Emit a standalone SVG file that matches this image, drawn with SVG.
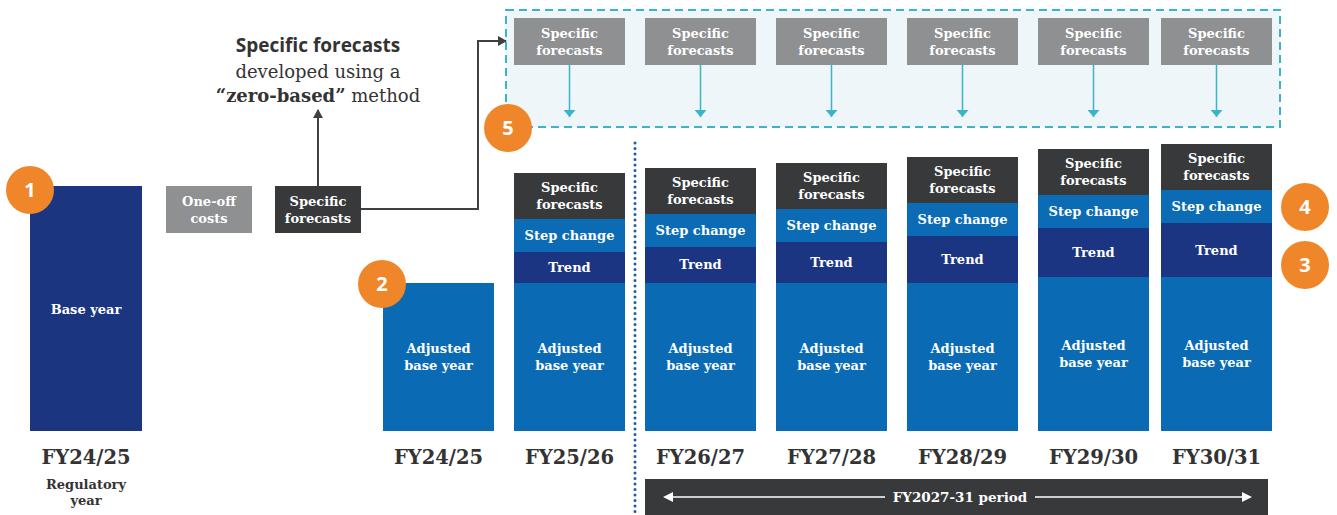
<svg xmlns="http://www.w3.org/2000/svg" width="1337" height="515" viewBox="0 0 1337 515">
<defs>
<style>
.lab{font-family:"DejaVu Serif","Liberation Serif",serif;font-weight:bold;font-size:13px;fill:#fff;text-anchor:middle}
.yr{font-family:"DejaVu Serif","Liberation Serif",serif;font-weight:bold;font-size:19.5px;fill:#333;text-anchor:middle}
.badge circle{fill:#f0862a}
.badge text{font-family:"Open Sans","Liberation Sans",sans-serif;font-weight:bold;font-size:20px;fill:#fff;text-anchor:middle}
.sf{fill:#38393b}
.sc{fill:#0b6cb5}
.tr{fill:#1b3582}
.ab{fill:#0a6ab4}
.gr{fill:#8e9092}
.cy{stroke:#3bb3c9;stroke-width:1.5;fill:none}
</style>
<marker id="ah" markerWidth="10" markerHeight="10" refX="8" refY="5" orient="auto" markerUnits="userSpaceOnUse"><path d="M0,0 L9,5 L0,10 z" fill="#404040"/></marker>
<marker id="ac" markerWidth="8" markerHeight="12" refX="7" refY="6" orient="auto" markerUnits="userSpaceOnUse"><path d="M0,0 L7,6 L0,12 z" fill="#3bb3c9"/></marker>
</defs>
<rect width="1337" height="515" fill="#fff"/>

<g id="zone5">
<rect x="506" y="10" width="774" height="117" fill="#eef6f9" stroke="#3bb3c9" stroke-width="2" stroke-dasharray="8,5"/>
</g>

<g id="title" font-size="19" fill="#333" text-anchor="middle">
<text x="318" y="52" font-family="'Open Sans','Liberation Sans',sans-serif" font-weight="bold">Specific forecasts</text>
<text x="318" y="78" font-family="'DejaVu Serif','Liberation Serif',serif" font-weight="300" font-size="18">developed using a</text>
<text x="318" y="102" font-family="'DejaVu Serif','Liberation Serif',serif" font-size="18"><tspan font-weight="bold">“zero-based”</tspan><tspan font-weight="normal"> method</tspan></text>
</g>

<g id="base">
<rect x="30" y="186" width="112" height="245" fill="#1b3580"/>
<text class="lab" x="86" y="314">Base year</text>
<text class="yr" x="86" y="464">FY24/25</text>
<text class="lab" x="86" y="489" style="fill:#333">Regulatory</text>
<text class="lab" x="86" y="505" style="fill:#333">year</text>
</g>

<g id="oneoff">
<rect class="gr" x="166" y="186" width="86" height="47"/>
<text class="lab" x="209" y="206">One-off</text>
<text class="lab" x="209" y="223">costs</text>
</g>

<g id="sfsrc">
<rect class="sf" x="275" y="186" width="86" height="47"/>
<text class="lab" x="318" y="206">Specific</text>
<text class="lab" x="318" y="223">forecasts</text>
</g>

<g id="top-boxes">
<rect class="gr" x="514" y="18" width="111" height="47"/><text class="lab" x="569.5" y="38">Specific</text><text class="lab" x="569.5" y="55">forecasts</text>
<rect class="gr" x="645" y="18" width="111" height="47"/><text class="lab" x="700.5" y="38">Specific</text><text class="lab" x="700.5" y="55">forecasts</text>
<rect class="gr" x="776" y="18" width="111" height="47"/><text class="lab" x="831.5" y="38">Specific</text><text class="lab" x="831.5" y="55">forecasts</text>
<rect class="gr" x="907" y="18" width="111" height="47"/><text class="lab" x="962.5" y="38">Specific</text><text class="lab" x="962.5" y="55">forecasts</text>
<rect class="gr" x="1038" y="18" width="111" height="47"/><text class="lab" x="1093.5" y="38">Specific</text><text class="lab" x="1093.5" y="55">forecasts</text>
<rect class="gr" x="1161" y="18" width="111" height="47"/><text class="lab" x="1216.5" y="38">Specific</text><text class="lab" x="1216.5" y="55">forecasts</text>
</g>

<g id="connectors" fill="none">
<path d="M318,186 V110" stroke="#404040" stroke-width="2" marker-end="url(#ah)"/>
<path d="M361,209 H478 V41 H506" stroke="#404040" stroke-width="2" marker-end="url(#ah)"/>
<path class="cy" d="M569.5,65 V117" marker-end="url(#ac)"/>
<path class="cy" d="M700.5,65 V117" marker-end="url(#ac)"/>
<path class="cy" d="M831.5,65 V117" marker-end="url(#ac)"/>
<path class="cy" d="M962.5,65 V117" marker-end="url(#ac)"/>
<path class="cy" d="M1093.5,65 V117" marker-end="url(#ac)"/>
<path class="cy" d="M1216.5,65 V117" marker-end="url(#ac)"/>
<path d="M635,143 V515" stroke="#1b5ea8" stroke-width="3" stroke-linecap="round" stroke-dasharray="0,5.5"/>
</g>

<g id="col-2425">
<rect class="ab" x="383" y="283" width="111" height="148"/>
<text class="lab" x="438.5" y="353">Adjusted</text><text class="lab" x="438.5" y="370">base year</text>
<text class="yr" x="438.5" y="464">FY24/25</text>
</g>

<g id="col-2526">
<rect class="sf" x="514" y="173" width="111" height="46"/><text class="lab" x="569.5" y="192">Specific</text><text class="lab" x="569.5" y="209">forecasts</text>
<rect class="sc" x="514" y="219" width="111" height="33"/><text class="lab" x="569.5" y="240">Step change</text>
<rect class="tr" x="514" y="252" width="111" height="31"/><text class="lab" x="569.5" y="272">Trend</text>
<rect class="ab" x="514" y="283" width="111" height="148"/><text class="lab" x="569.5" y="353">Adjusted</text><text class="lab" x="569.5" y="370">base year</text>
<text class="yr" x="569.5" y="464">FY25/26</text>
</g>

<g id="col-2627">
<rect class="sf" x="645" y="168" width="111" height="46"/><text class="lab" x="700.5" y="187">Specific</text><text class="lab" x="700.5" y="204">forecasts</text>
<rect class="sc" x="645" y="214" width="111" height="33"/><text class="lab" x="700.5" y="235">Step change</text>
<rect class="tr" x="645" y="247" width="111" height="36"/><text class="lab" x="700.5" y="269">Trend</text>
<rect class="ab" x="645" y="283" width="111" height="148"/><text class="lab" x="700.5" y="353">Adjusted</text><text class="lab" x="700.5" y="370">base year</text>
<text class="yr" x="700.5" y="464">FY26/27</text>
</g>

<g id="col-2728">
<rect class="sf" x="776" y="163" width="111" height="46"/><text class="lab" x="831.5" y="182">Specific</text><text class="lab" x="831.5" y="199">forecasts</text>
<rect class="sc" x="776" y="209" width="111" height="33"/><text class="lab" x="831.5" y="230">Step change</text>
<rect class="tr" x="776" y="242" width="111" height="41"/><text class="lab" x="831.5" y="267">Trend</text>
<rect class="ab" x="776" y="283" width="111" height="148"/><text class="lab" x="831.5" y="353">Adjusted</text><text class="lab" x="831.5" y="370">base year</text>
<text class="yr" x="831.5" y="464">FY27/28</text>
</g>

<g id="col-2829">
<rect class="sf" x="907" y="157" width="111" height="46"/><text class="lab" x="962.5" y="176">Specific</text><text class="lab" x="962.5" y="193">forecasts</text>
<rect class="sc" x="907" y="203" width="111" height="33"/><text class="lab" x="962.5" y="224">Step change</text>
<rect class="tr" x="907" y="236" width="111" height="47"/><text class="lab" x="962.5" y="264">Trend</text>
<rect class="ab" x="907" y="283" width="111" height="148"/><text class="lab" x="962.5" y="353">Adjusted</text><text class="lab" x="962.5" y="370">base year</text>
<text class="yr" x="962.5" y="464">FY28/29</text>
</g>

<g id="col-2930">
<rect class="sf" x="1038" y="149" width="111" height="46"/><text class="lab" x="1093.5" y="168">Specific</text><text class="lab" x="1093.5" y="185">forecasts</text>
<rect class="sc" x="1038" y="195" width="111" height="33"/><text class="lab" x="1093.5" y="216">Step change</text>
<rect class="tr" x="1038" y="228" width="111" height="49"/><text class="lab" x="1093.5" y="257">Trend</text>
<rect class="ab" x="1038" y="277" width="111" height="154"/><text class="lab" x="1093.5" y="350">Adjusted</text><text class="lab" x="1093.5" y="367">base year</text>
<text class="yr" x="1093.5" y="464">FY29/30</text>
</g>

<g id="col-3031">
<rect class="sf" x="1161" y="144" width="111" height="46"/><text class="lab" x="1216.5" y="163">Specific</text><text class="lab" x="1216.5" y="180">forecasts</text>
<rect class="sc" x="1161" y="190" width="111" height="33"/><text class="lab" x="1216.5" y="211">Step change</text>
<rect class="tr" x="1161" y="223" width="111" height="54"/><text class="lab" x="1216.5" y="255">Trend</text>
<rect class="ab" x="1161" y="277" width="111" height="154"/><text class="lab" x="1216.5" y="350">Adjusted</text><text class="lab" x="1216.5" y="367">base year</text>
<text class="yr" x="1216.5" y="464">FY30/31</text>
</g>

<g id="period">
<rect x="645" y="479" width="623" height="36" fill="#38393b"/>
<path d="M665,497 H885 M1035,497 H1250" stroke="#fff" stroke-width="1.5" fill="none"/>
<path d="M663,497 l10,-5 v10 z M1252,497 l-10,-5 v10 z" fill="#fff"/>
<text class="lab" x="960" y="502" style="font-size:13.5px">FY2027-31 period</text>
</g>

<g id="badge1" class="badge"><circle cx="30" cy="190" r="24"/><text x="30" y="197">1</text></g>
<g id="badge2" class="badge"><circle cx="382" cy="284" r="24"/><text x="382" y="291">2</text></g>
<g id="badge5" class="badge"><circle cx="508" cy="128" r="24"/><text x="508" y="135">5</text></g>
<g id="badge4" class="badge"><circle cx="1305" cy="207" r="24"/><text x="1305" y="214">4</text></g>
<g id="badge3" class="badge"><circle cx="1305" cy="265" r="24"/><text x="1305" y="272">3</text></g>
</svg>
